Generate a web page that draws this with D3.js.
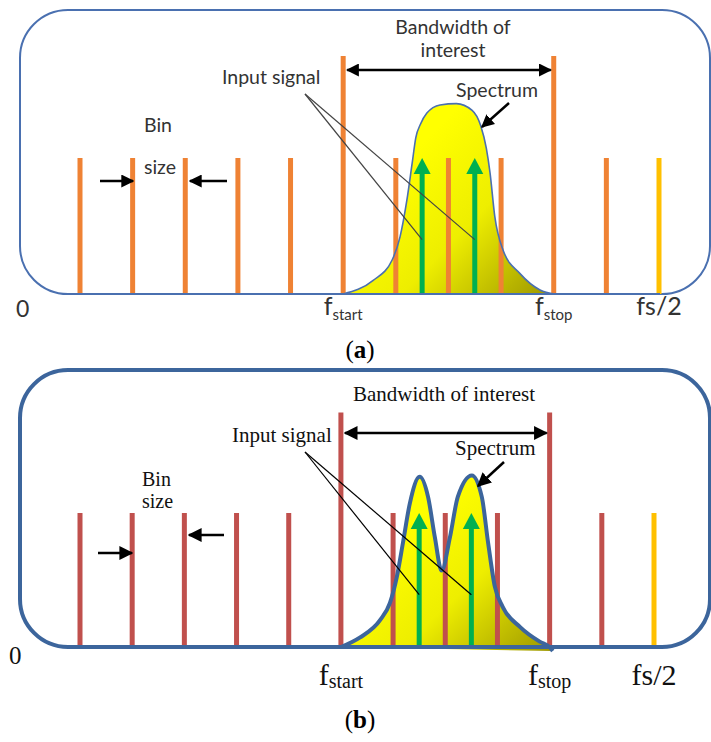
<!DOCTYPE html>
<html><head><meta charset="utf-8">
<script src="https://cdn.jsdelivr.net/npm/d3@7"></script>
<style>html,body{margin:0;padding:0;background:#fff;}svg{display:block;}</style>
</head><body>
<script>
// ---------- data ----------
const binIndex = [0,1,2,3,4,5,6,7,8,9,10,11];
const binLevel = [1,1,1,1,1,1.75,1,1,1,1.75,1,1];
const binKind  = ["bin","bin","bin","bin","bin","edge","bin","bin","bin","edge","bin","nyquist"];
const signalFreq = [6.5, 7.5];
const signalLevel = [1, 1];
const axisLabelFreq = [5, 9, 11];
const axisLabelMain = ["f", "f", "fs/2"];
const axisLabelSub  = ["start", "stop", ""];
const specAFreq = [5.0,5.57,5.93,6.08,6.21,6.31,6.38,6.47,6.59,6.84,7.15,7.45,7.61,7.72,7.79,7.88,8.04,8.36,8.74,9.02];
const specAAmp  = [0,0.10,0.25,0.42,0.69,0.96,1.15,1.25,1.33,1.39,1.40,1.35,1.24,1.07,0.89,0.57,0.32,0.15,0.03,0];
const specBFreq = [5.0,5.36,5.75,5.94,6.07,6.19,6.32,6.51,6.67,6.80,6.93,7.09,7.24,7.51,7.70,7.82,7.95,8.10,8.43,8.81,9.0,9.06];
const specBAmp  = [0,0.07,0.20,0.33,0.52,0.78,1.07,1.27,1.12,0.82,0.57,0.82,1.12,1.28,1.12,0.78,0.45,0.30,0.15,0.04,0,-0.03];
const texts = {bw:"Bandwidth of interest", input:"Input signal", spec:"Spectrum", bin:"Bin", size:"size", zero:"0"};

// ---------- drawing ----------
const W = 711, H = 742;
const svg = d3.select("body").append("svg").attr("width", W).attr("height", H);
const defs = svg.append("defs");

function arrowMarker(id, color, size){
  defs.append("marker").attr("id", id).attr("viewBox","0 0 10 10").attr("refX",9).attr("refY",5)
    .attr("markerWidth", size).attr("markerHeight", size).attr("orient","auto-start-reverse")
    .attr("markerUnits","userSpaceOnUse")
    .append("path").attr("d","M0,0 L10,5 L0,10 Z").attr("fill", color);
}
arrowMarker("ahA", "#000", 13);
arrowMarker("ahB", "#000", 14);

const grad = defs.append("linearGradient").attr("id","specGrad")
  .attr("x1","0.25").attr("y1","0.35").attr("x2","1").attr("y2","1");
grad.append("stop").attr("offset","0").attr("stop-color","#ffff00");
grad.append("stop").attr("offset","0.45").attr("stop-color","#eeee00");
grad.append("stop").attr("offset","1").attr("stop-color","#9c9600");

const panels = [
  {id:"A", x0:80, x1:659, base:294, unit:136, top:10, frameStroke:"#4a70b0", frameW:2, specW:1.6,
   binColor:"#ef8234", nyqColor:"#ffc000", font:"Lato, 'Open Sans', sans-serif", textColor:"#333",
   spec:[specAFreq, specAAmp], lineColor:"#444",
   bw:{lines:["Bandwidth of","interest"], x:453, y:[34,57], size:19.5, anchor:"middle"},
   bwArrowY:70,
   specText:{x:497, y:97, size:19.5}, specPtr:[[509,103],[482,127]],
   input:{x:222, y:84, size:19.5}, inputFrom:[305,94], inputAmp:0.4,
   bin:{x:144, y:[132,174], size:19.5}, binArrR:[[100,181],[133,181]], binArrL:[[227,181],[190,181]],
   zero:{x:16, y:317, size:23},
   lab:{y:315, size:25, sub:15, dy:5},
   cap:{text:"a", y:358}},
  {id:"B", x0:80, x1:654, base:647, unit:134, top:370, frameStroke:"#3c659c", frameW:4, specW:4,
   binColor:"#c0504d", nyqColor:"#ffc000", font:"'Liberation Serif', 'Times New Roman', serif", textColor:"#111",
   spec:[specBFreq, specBAmp], lineColor:"#000",
   bw:{lines:["Bandwidth of interest"], x:353, y:[401], size:21, anchor:"start"},
   bwArrowY:433,
   specText:{x:455, y:455, size:21}, specPtr:[[504,462],[478,486]],
   input:{x:232, y:442, size:21}, inputFrom:[305,452], inputAmp:0.39,
   bin:{x:142, y:[486,508], size:20}, binArrR:[[98,553],[132,553]], binArrL:[[224,535],[189,535]],
   zero:{x:9, y:664, size:25},
   lab:{y:685, size:30, sub:20, dy:3},
   cap:{text:"b", y:728}}
];

panels.forEach(p => {
  const g = svg.append("g");
  const x = d3.scaleLinear().domain([0, 11]).range([p.x0, p.x1]);
  const y = d3.scaleLinear().domain([0, 1]).range([p.base, p.base - p.unit]);

  // frame
  g.append("rect").attr("x", 20).attr("y", p.top).attr("width", 690).attr("height", p.base - p.top)
    .attr("rx", 48).attr("ry", 48).attr("fill", "#fff")
    .attr("stroke", p.frameStroke).attr("stroke-width", p.frameW);

  // spectrum fill
  const line = d3.line().x((d,i) => x(p.spec[0][i])).y(d => y(d)).curve(d3.curveMonotoneX);
  g.append("path").attr("d", line(p.spec[1])).attr("fill", "url(#specGrad)").attr("stroke", "none");

  // bins
  g.selectAll(".bin").data(binIndex).join("line")
    .attr("x1", d => x(d)).attr("x2", d => x(d))
    .attr("y1", y(0)).attr("y2", (d,i) => y(binLevel[i]))
    .attr("stroke", (d,i) => binKind[i] === "nyquist" ? p.nyqColor : p.binColor)
    .attr("stroke-width", 5);

  // green signal arrows
  signalFreq.forEach((f, i) => {
    const cx = x(f), tip = y(signalLevel[i]);
    g.append("line").attr("x1", cx).attr("x2", cx).attr("y1", y(0)).attr("y2", tip + 12)
      .attr("stroke", "#00b050").attr("stroke-width", 5);
    g.append("path").attr("d", `M${cx},${tip} L${cx+8.5},${tip+16} L${cx-8.5},${tip+16} Z`).attr("fill", "#00b050");
  });

  // spectrum outline
  g.append("path").attr("d", line(p.spec[1])).attr("fill", "none")
    .attr("stroke", p.frameStroke).attr("stroke-width", p.specW).attr("stroke-linejoin","round");

  // frame bottom line on top
  g.append("line").attr("x1", 70).attr("x2", 660).attr("y1", p.base).attr("y2", p.base)
    .attr("stroke", p.frameStroke).attr("stroke-width", p.frameW);

  const mk = "url(#ah" + p.id + ")";
  // bandwidth double arrow
  g.append("line").attr("x1", x(5) + 4).attr("x2", x(9) - 3).attr("y1", p.bwArrowY).attr("y2", p.bwArrowY)
    .attr("stroke", "#000").attr("stroke-width", 2.5).attr("marker-start", mk).attr("marker-end", mk);

  const txt = (s, tx, ty, size, anchor) => g.append("text").attr("x", tx).attr("y", ty)
    .attr("font-family", p.font).attr("font-size", size).attr("fill", p.textColor)
    .attr("text-anchor", anchor || "start").text(s);

  p.bw.lines.forEach((s, i) => txt(s, p.bw.x, p.bw.y[i], p.bw.size, p.bw.anchor));
  txt(texts.spec, p.specText.x, p.specText.y, p.specText.size, p.id === "A" ? "middle" : "start");
  g.append("line").attr("x1", p.specPtr[0][0]).attr("y1", p.specPtr[0][1])
    .attr("x2", p.specPtr[1][0]).attr("y2", p.specPtr[1][1])
    .attr("stroke", "#000").attr("stroke-width", 2.5).attr("marker-end", mk);

  txt(texts.input, p.input.x, p.input.y, p.input.size);
  signalFreq.forEach(f => {
    g.append("line").attr("x1", p.inputFrom[0]).attr("y1", p.inputFrom[1])
      .attr("x2", x(f)).attr("y2", y(p.inputAmp))
      .attr("stroke", p.lineColor).attr("stroke-width", 1.2);
  });

  txt(texts.bin, p.bin.x, p.bin.y[0], p.bin.size);
  txt(texts.size, p.bin.x, p.bin.y[1], p.bin.size);
  [p.binArrR, p.binArrL].forEach(a => {
    g.append("line").attr("x1", a[0][0]).attr("y1", a[0][1]).attr("x2", a[1][0]).attr("y2", a[1][1])
      .attr("stroke", "#000").attr("stroke-width", 2.5).attr("marker-end", mk);
  });

  txt(texts.zero, p.zero.x, p.zero.y, p.zero.size);

  axisLabelFreq.forEach((f, i) => {
    const t = g.append("text").attr("x", x(f)).attr("y", p.lab.y).attr("text-anchor", "middle")
      .attr("font-family", p.font).attr("font-size", p.lab.size).attr("fill", p.textColor);
    t.append("tspan").text(axisLabelMain[i]);
    if (axisLabelSub[i]) t.append("tspan").attr("font-size", p.lab.sub).attr("dy", p.lab.dy).text(axisLabelSub[i]);
  });

  const cap = svg.append("text").attr("x", 360).attr("y", p.cap.y).attr("text-anchor", "middle")
    .attr("font-family", "'Liberation Serif', serif").attr("font-size", 25).attr("fill", "#000");
  cap.append("tspan").text("(");
  cap.append("tspan").attr("font-weight", "bold").text(p.cap.text);
  cap.append("tspan").text(")");
});
</script>
</body></html>
